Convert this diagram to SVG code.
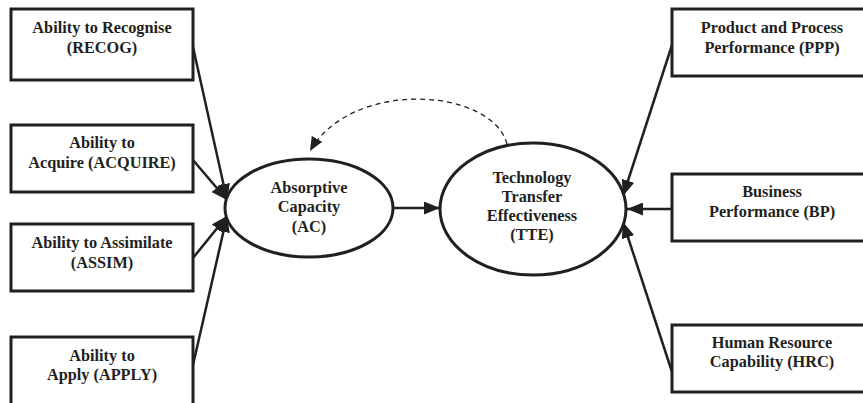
<svg xmlns="http://www.w3.org/2000/svg" width="863" height="403" viewBox="0 0 863 403">
<style>
.box{fill:#fff;stroke:#231f20;stroke-width:3}
.ell{fill:#fff;stroke:#231f20;stroke-width:3}
.t{font-family:"Liberation Serif","Times New Roman",serif;font-weight:bold;font-size:16.3px;fill:#231f20;text-anchor:middle}
.c{fill:none;stroke:#231f20;stroke-width:2.5}
.d{fill:none;stroke:#231f20;stroke-width:1.3;stroke-dasharray:5 4}
</style>
<defs>
<marker id="ah" viewBox="0 0 16 13" refX="16" refY="6.5" markerWidth="16" markerHeight="13" markerUnits="userSpaceOnUse" orient="auto">
<path d="M0,0 L16,6.5 L0,13 z" fill="#231f20"/>
</marker>
<marker id="ahd" viewBox="0 0 14 12" refX="14" refY="6" markerWidth="14" markerHeight="12" markerUnits="userSpaceOnUse" orient="auto">
<path d="M0,0 L14,6 L0,12 z" fill="#231f20"/>
</marker>
</defs>
<rect width="863" height="403" fill="#fff"/>
<g id="connectors">
<line class="c" x1="193" y1="47" x2="227" y2="200" marker-end="url(#ah)"/>
<line class="c" x1="193" y1="160" x2="227" y2="200" marker-end="url(#ah)"/>
<line class="c" x1="193" y1="258" x2="227" y2="216" marker-end="url(#ah)"/>
<line class="c" x1="193" y1="365" x2="227" y2="216" marker-end="url(#ah)"/>
<line class="c" x1="393" y1="208" x2="440" y2="208" marker-end="url(#ah)"/>
<line class="c" x1="672" y1="45" x2="623" y2="196" marker-end="url(#ah)"/>
<line class="c" x1="672" y1="209" x2="627" y2="209" marker-end="url(#ah)"/>
<line class="c" x1="672" y1="372" x2="623" y2="222" marker-end="url(#ah)"/>
<path class="d" d="M507,144 C492,88 352,78 310,151" marker-end="url(#ahd)"/>
</g>
<g id="RECOG">
<rect class="box" x="11" y="9" width="182" height="71"/>
<text class="t" x="102" y="33">Ability to Recognise</text>
<text class="t" x="102" y="53">(RECOG)</text>
</g>
<g id="ACQUIRE">
<rect class="box" x="11" y="125" width="182" height="67"/>
<text class="t" x="102" y="148">Ability to</text>
<text class="t" x="102" y="168">Acquire (ACQUIRE)</text>
</g>
<g id="ASSIM">
<rect class="box" x="11" y="224" width="182" height="67"/>
<text class="t" x="102" y="248">Ability to Assimilate</text>
<text class="t" x="102" y="268">(ASSIM)</text>
</g>
<g id="APPLY">
<rect class="box" x="11" y="337" width="182" height="70"/>
<text class="t" x="102" y="361">Ability to</text>
<text class="t" x="102" y="380">Apply (APPLY)</text>
</g>
<g id="AC">
<ellipse class="ell" cx="309" cy="208" rx="84" ry="49"/>
<text class="t" x="309" y="193">Absorptive</text>
<text class="t" x="309" y="212">Capacity</text>
<text class="t" x="309" y="232">(AC)</text>
</g>
<g id="TTE">
<ellipse class="ell" cx="533" cy="209" rx="93" ry="66"/>
<text class="t" x="532" y="183">Technology</text>
<text class="t" x="532" y="202">Transfer</text>
<text class="t" x="532" y="221">Effectiveness</text>
<text class="t" x="532" y="240">(TTE)</text>
</g>
<g id="PPP">
<rect class="box" x="672" y="9" width="200" height="67"/>
<text class="t" x="772" y="33">Product and Process</text>
<text class="t" x="772" y="53">Performance (PPP)</text>
</g>
<g id="BP">
<rect class="box" x="672" y="174" width="200" height="67"/>
<text class="t" x="772" y="197">Business</text>
<text class="t" x="772" y="217">Performance (BP)</text>
</g>
<g id="HRC">
<rect class="box" x="672" y="325" width="200" height="67"/>
<text class="t" x="772" y="348">Human Resource</text>
<text class="t" x="772" y="367">Capability (HRC)</text>
</g>
</svg>
